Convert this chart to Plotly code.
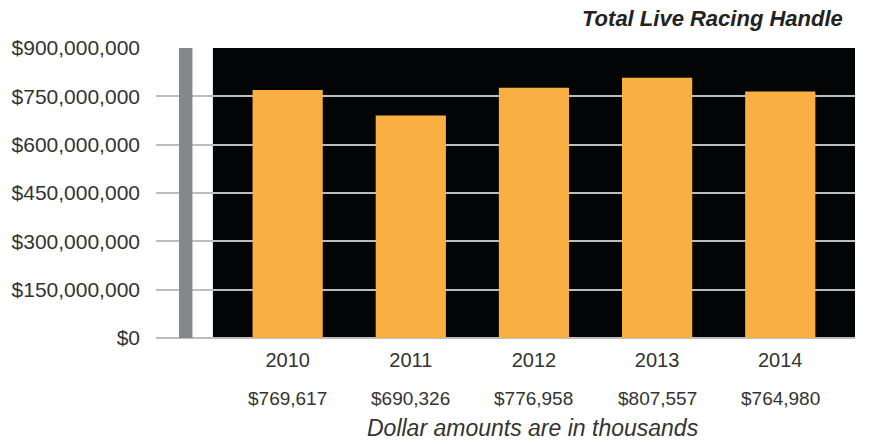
import plotly.graph_objects as go

# Total live racing handle by year (values in thousands of dollars)
years = ["2010", "2011", "2012", "2013", "2014"]
handle_thousands = [769617, 690326, 776958, 807557, 764980]
value_labels = ["$769,617", "$690,326", "$776,958", "$807,557", "$764,980"]
y_tick_values = [0, 150e6, 300e6, 450e6, 600e6, 750e6, 900e6]
y_tick_labels = ["$0", "$150,000,000", "$300,000,000", "$450,000,000",
                 "$600,000,000", "$750,000,000", "$900,000,000"]

x_pos = list(range(len(years)))
handle_dollars = [v * 1000 for v in handle_thousands]

FONT = "Liberation Sans, Arial, sans-serif"
TEXT = "#333333"

fig = go.Figure()
fig.add_trace(go.Bar(
    x=x_pos, y=handle_dollars, width=0.57,
    marker=dict(color="#F9AF42", line=dict(width=0)),
    hoverinfo="skip",
))

x_range = [-1.069, 4.607]

# dark panel behind the bars (under the gridlines)
fig.add_shape(type="rect", xref="x", yref="y", x0=-0.607, x1=x_range[1],
              y0=0, y1=900e6, fillcolor="#030405", line=dict(width=0), layer="below")
# grey vertical band at the left of the panel
fig.add_shape(type="rect", xref="x", yref="y", x0=-0.882, x1=-0.773,
              y0=0, y1=900e6, fillcolor="#868789", line=dict(width=0), layer="between")

# value labels under the year ticks
for xp, lab in zip(x_pos, value_labels):
    fig.add_annotation(x=xp, xref="x", y=-0.21, yref="paper", text=lab,
                       showarrow=False, xanchor="center", yanchor="middle",
                       font=dict(family=FONT, size=19, color=TEXT))

fig.add_annotation(x=(532 - 154) / 701, xref="paper", y=-0.31, yref="paper",
                   text="<i>Dollar amounts are in thousands</i>", showarrow=False,
                   xanchor="center", yanchor="middle",
                   font=dict(family=FONT, size=23, color=TEXT))

fig.add_annotation(x=(845 - 154) / 701, xref="paper", y=(338 - 19) / 290, yref="paper",
                   text="<b><i>Total Live Racing Handle</i></b>", showarrow=False,
                   xanchor="right", yanchor="middle",
                   font=dict(family=FONT, size=22, color="#222222"))

fig.update_layout(
    width=869, height=444,
    margin=dict(l=154, r=14, t=48, b=106),
    paper_bgcolor="white", plot_bgcolor="white",
    showlegend=False,
    xaxis=dict(range=x_range, tickvals=x_pos, ticktext=years,
               showgrid=False, zeroline=False, showline=False, ticks="",
               tickfont=dict(family=FONT, size=20, color=TEXT),
               ticklabelstandoff=8),
    yaxis=dict(range=[0, 900e6], tickvals=y_tick_values, ticktext=y_tick_labels,
               showgrid=True, gridcolor="#BDBDBD", gridwidth=2,
               zeroline=True, zerolinecolor="#BDBDBD", zerolinewidth=2,
               showline=False, ticks="",
               tickfont=dict(family=FONT, size=21, color=TEXT),
               ticklabelstandoff=15),
)

fig.write_html("out.html")
